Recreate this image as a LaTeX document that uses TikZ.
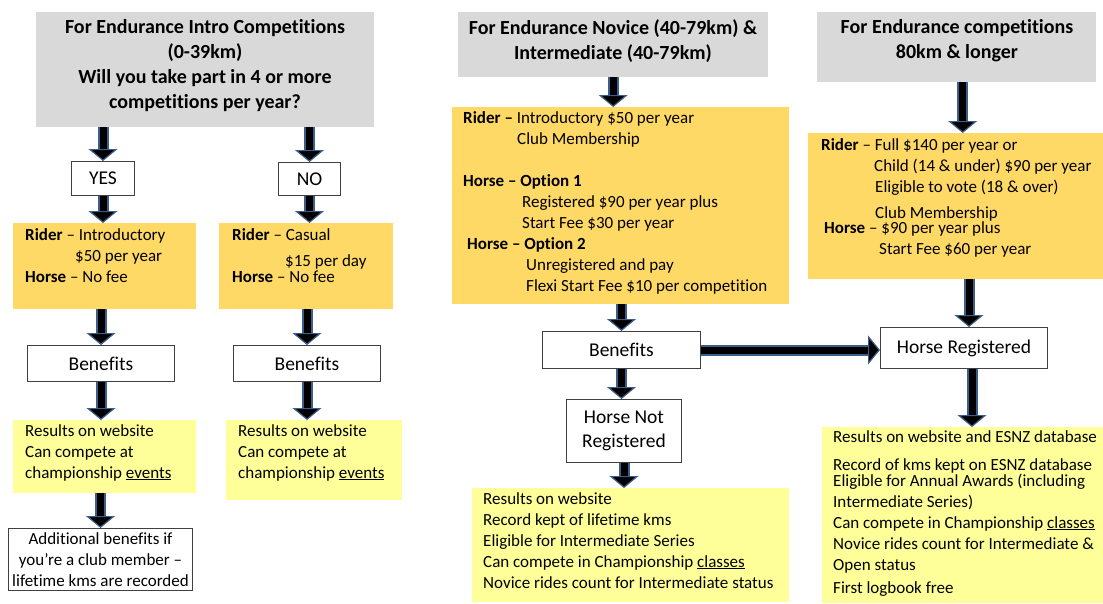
\documentclass[tikz,border=0pt]{standalone}
\usepackage{fontspec}
\setmainfont{Carlito}[Ligatures={TeX,NoCommon}]
\usepackage{xcolor}
\usepackage{tikz}
\usetikzlibrary{positioning, arrows.meta, calc}

\definecolor{titlegray}{HTML}{D9D9D9}
\definecolor{feeorange}{HTML}{FFD966}
\definecolor{perkyellow}{HTML}{FFFF99}
\definecolor{arrowblue}{HTML}{3B5E8C}
\definecolor{framegray}{HTML}{404040}

\tikzset{
  panel/.style 2 args={minimum width=#1pt, minimum height=#2pt, inner sep=0pt, anchor=north west},
  titlebox/.style={fill=titlegray},
  feebox/.style={fill=feeorange},
  perkbox/.style={fill=perkyellow},
  choicebox/.style={draw=framegray, line width=1pt, fill=white, align=center, font=\fontsize{19.5}{24}\selectfont},
  titletxt/.style={font=\bfseries\fontsize{20}{25}\selectfont, align=center, inner sep=0pt, anchor=north},
  bodytxt/.style={font=\fontsize{17}{21}\selectfont, align=left, inner sep=0pt, anchor=north west},
  flowarrow/.style={draw=black, line width=7pt,
    -{Triangle[width=29pt, length=12pt, color=arrowblue, fill=black, line width=1.2pt]},
    preaction={draw=arrowblue, line width=11pt, -, shorten >=10pt}}
}

\begin{document}
\begin{tikzpicture}[x=1pt, y=-1pt]
  \fill[white] (0,0) rectangle (1103,603);
  \useasboundingbox (0,0) rectangle (1103,603);

  % left column: intro competitions
  \node[titlebox, panel={338}{115}] (intro) at (36,12) {};
  \node[titletxt] (intro-txt) at (205,19) {For Endurance Intro Competitions\\(0-39km)\\Will you take part in 4 or more\\competitions per year?};
  \node[choicebox, panel={63}{34}] (yes) at (71,161) {YES};
  \node[choicebox, panel={62}{33}] (no) at (278,162) {NO};
  \node[feebox, panel={183}{86}] (fee1) at (13,223) {};
  \node[bodytxt] (fee1-txt) at (25,228) {\textbf{Rider} -- Introductory\\\hspace*{50pt}\$50 per year\\\textbf{Horse} -- No fee};
  \node[feebox, panel={174}{86}] (fee2) at (219,223) {};
  \node[bodytxt] (fee2-txt) at (232,228) {\textbf{Rider} -- Casual\\[5pt]\hspace*{53pt}\$15 per day\\[-5pt]\textbf{Horse} -- No fee};
  \node[choicebox, panel={147}{36}] (ben1) at (27,345) {Benefits};
  \node[choicebox, panel={147}{36}] (ben2) at (233,345) {Benefits};
  \node[perkbox, panel={183}{73}] (perk1) at (13,420) {};
  \node[bodytxt] (perk1-txt) at (25,424) {Results on website\\Can compete at\\championship \underline{events}};
  \node[perkbox, panel={176}{80}] (perk2) at (226,420) {};
  \node[bodytxt] (perk2-txt) at (238,424) {Results on website\\Can compete at\\championship \underline{events}};
  \node[choicebox, panel={184}{62}, font=\fontsize{17}{21}\selectfont] (extra) at (8,528) {Additional benefits if\\you’re a club member --\\lifetime kms are recorded};

  % middle column: novice and intermediate
  \node[titlebox, panel={310}{65}] (novice) at (458,12) {};
  \node[titletxt] (novice-txt) at (613,19) {For Endurance Novice (40-79km) \&\\Intermediate (40-79km)};
  \node[feebox, panel={337}{197}] (fee3) at (452,107) {};
  \node[bodytxt] (fee3-txt) at (463,111) {\textbf{Rider --} Introductory \$50 per year\\
    \hspace*{54pt}Club Membership\\[21pt]
    \textbf{Horse -- Option 1}\\
    \hspace*{59pt}Registered \$90 per year plus\\
    \hspace*{59pt}Start Fee \$30 per year\\
    \hspace*{4pt}\textbf{Horse -- Option 2}\\
    \hspace*{63pt}Unregistered and pay\\
    \hspace*{63pt}Flexi Start Fee \$10 per competition};
  \node[choicebox, panel={158}{37}] (ben3) at (542,331) {Benefits};
  \node[choicebox, panel={115}{63}] (hnotreg) at (566,399) {Horse Not\\Registered};
  \node[perkbox, panel={317}{114}] (perk3) at (472,488) {};
  \node[bodytxt] (perk3-txt) at (483,492) {Results on website\\Record kept of lifetime kms\\Eligible for Intermediate Series\\Can compete in Championship \underline{classes}\\Novice rides count for Intermediate status};

  % right column: 80km and longer
  \node[titlebox, panel={279}{70}] (long) at (817,12) {};
  \node[titletxt] (long-txt) at (957,19) {For Endurance competitions\\80km \& longer};
  \node[feebox, panel={295}{146}] (fee4) at (808,133) {};
  \node[bodytxt] (fee4-txt) at (821,138) {\textbf{Rider} -- Full \$140 per year or\\
    \hspace*{53pt}Child (14 \& under) \$90 per year\\
    \hspace*{54pt}Eligible to vote (18 \& over)\\[5pt]
    \hspace*{54pt}Club Membership\\[-6pt]
    \hspace*{3pt}\textbf{Horse} -- \$90 per year plus\\
    \hspace*{58pt}Start Fee \$60 per year};
  \node[choicebox, panel={167}{41}] (hreg) at (880,327) {Horse Registered};
  \node[perkbox, panel={281}{176}] (perk4) at (822,427) {};
  \node[bodytxt] (perk4-txt) at (833,430) {Results on website and ESNZ database\\[7pt]
    Record of kms kept on ESNZ database\\[-5pt]
    Eligible for Annual Awards (including\\
    Intermediate Series)\\
    Can compete in Championship \underline{classes}\\
    Novice rides count for Intermediate \&\\
    Open status\\[2pt]
    First logbook free};

  % arrows
  \draw[flowarrow] (intro.south -| yes) -- (yes.north);
  \draw[flowarrow] (intro.south -| no) -- (no.north);
  \draw[flowarrow] (yes.south) -- (yes.south |- fee1.north);
  \draw[flowarrow] (no.south) -- (no.south |- fee2.north);
  \draw[flowarrow] (fee1.south -| ben1) -- (ben1.north);
  \draw[flowarrow] (fee2.south -| ben2) -- (ben2.north);
  \draw[flowarrow] (ben1.south) -- (ben1.south |- perk1.north);
  \draw[flowarrow] (ben2.south) -- (ben2.south |- perk2.north);
  \draw[flowarrow] (perk1.south -| extra) -- (extra.north);
  \draw[flowarrow] (novice.south) -- (novice.south |- fee3.north);
  \draw[flowarrow] (fee3.south -| ben3) -- (ben3.north);
  \draw[flowarrow] (ben3.south) -- (ben3.south |- hnotreg.north);
  \draw[flowarrow] (hnotreg.south) -- (hnotreg.south |- perk3.north);
  \draw[flowarrow] (ben3.east) -- (ben3.east -| hreg.west);
  \draw[flowarrow] ([xshift=6pt]long.south) -- ([xshift=6pt]long.south |- fee4.north);
  \draw[flowarrow] ([xshift=5pt]fee4.south -| hreg) -- ([xshift=5pt]hreg.north);
  \draw[flowarrow] ([xshift=8pt]hreg.south) -- ([xshift=8pt]hreg.south |- perk4.north);
\end{tikzpicture}
\end{document}
